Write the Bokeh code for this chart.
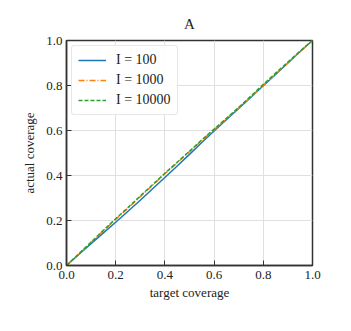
from bokeh.plotting import figure
from bokeh.models import Range1d, Legend, LegendItem, FixedTicker, PrintfTickFormatter
from bokeh.embed import file_html
from bokeh.resources import INLINE

target = [0.0, 0.05, 0.1, 0.15, 0.2, 0.25, 0.3, 0.35, 0.4, 0.45, 0.5, 0.55, 0.6, 0.65, 0.7, 0.75, 0.8, 0.85, 0.9, 0.95, 1.0]
actual_100 = [0.0, 0.049, 0.097, 0.145, 0.192, 0.241, 0.29, 0.341, 0.391, 0.442, 0.494, 0.547, 0.598, 0.648, 0.698, 0.748, 0.799, 0.849, 0.9, 0.951, 1.0]
actual_1000 = [0.0, 0.051, 0.103, 0.154, 0.205, 0.255, 0.306, 0.357, 0.408, 0.457, 0.506, 0.556, 0.604, 0.652, 0.701, 0.75, 0.801, 0.851, 0.901, 0.951, 1.0]
actual_10000 = [0.0, 0.052, 0.104, 0.156, 0.208, 0.258, 0.309, 0.359, 0.41, 0.459, 0.508, 0.558, 0.606, 0.654, 0.703, 0.753, 0.805, 0.855, 0.904, 0.953, 1.0]
ticks = [0.0, 0.2, 0.4, 0.6, 0.8, 1.0]

FONT = "Liberation Serif"

p = figure(width=335, height=315, output_backend="svg", toolbar_location=None,
           x_range=Range1d(0, 1), y_range=Range1d(0, 1),
           title="A", min_border_left=66, min_border_right=23,
           min_border_top=40, min_border_bottom=50)
p.title.align = "center"
p.title.vertical_align = "top"
p.title.text_font = FONT
p.title.text_font_size = "15px"
p.title.text_font_style = "normal"
p.title.text_color = "#222222"
p.title.standoff = 14

p.outline_line_color = "#333333"
p.outline_line_width = 1.5

for ax in (p.xaxis[0], p.yaxis[0]):
    ax.ticker = FixedTicker(ticks=ticks)
    ax.formatter = PrintfTickFormatter(format="%.1f")
    ax.major_tick_in = 5
    ax.major_tick_out = 0
    ax.minor_tick_in = 0
    ax.minor_tick_out = 0
    ax.axis_line_color = "#333333"
    ax.axis_line_width = 1.5
    ax.major_tick_line_color = "#333333"
    ax.major_label_text_font = FONT
    ax.major_label_text_font_size = "13px"
    ax.major_label_text_color = "#222222"
    ax.axis_label_text_font = FONT
    ax.axis_label_text_font_size = "13px"
    ax.axis_label_text_font_style = "normal"
    ax.axis_label_text_color = "#222222"

p.xaxis.major_label_standoff = 5
p.yaxis.major_label_standoff = 4
p.xaxis.axis_label = "target coverage"
p.yaxis.axis_label = "actual coverage"
p.xaxis.axis_label_standoff = 3
p.yaxis.axis_label_standoff = 6

p.grid.grid_line_color = "#e0e0e0"
p.grid.grid_line_width = 1
p.xgrid.ticker = FixedTicker(ticks=ticks)
p.ygrid.ticker = FixedTicker(ticks=ticks)

r1 = p.line(target, actual_100, line_color="#1f77b4", line_width=1.5)
r2 = p.line(target, actual_1000, line_color="#ff7f0e", line_width=1.5, line_dash="6 2 1 2")
r3 = p.line(target, actual_10000, line_color="#2ca02c", line_width=1.5, line_dash="4 2")

legend = Legend(items=[LegendItem(label="I = 100", renderers=[r1]),
                       LegendItem(label="I = 1000", renderers=[r2]),
                       LegendItem(label="I = 10000", renderers=[r3])],
                location="top_left")
legend.label_text_font = FONT
legend.label_text_font_size = "14px"
legend.label_text_color = "#222222"
legend.glyph_width = 28
legend.glyph_height = 14
legend.label_height = 14
legend.label_standoff = 10
legend.spacing = 4
legend.padding = 6
legend.margin = 5
legend.border_line_color = "#d0d0d0"
legend.border_line_width = 1
legend.border_radius = 3
legend.background_fill_alpha = 0.9
p.add_layout(legend)

open("out.html", "w").write(file_html(p, INLINE))
